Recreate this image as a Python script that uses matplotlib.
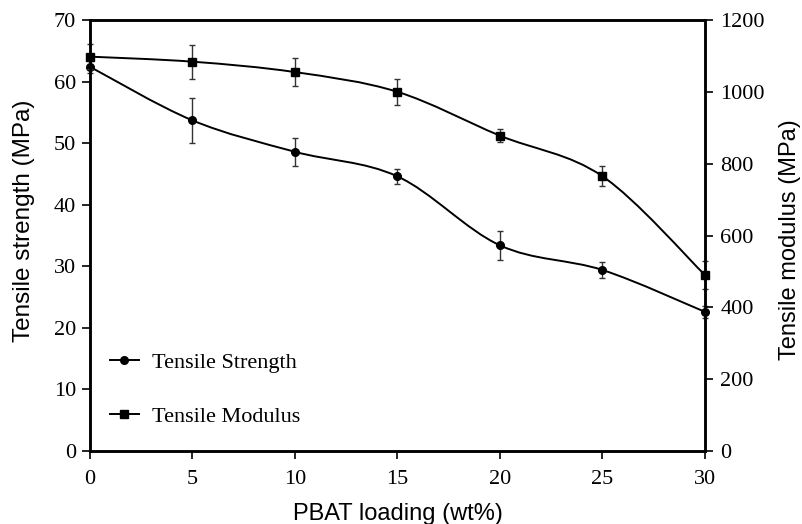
import numpy as np
import matplotlib
matplotlib.use('Agg')
import matplotlib.pyplot as plt
from matplotlib.path import Path
from matplotlib.patches import PathPatch
from matplotlib.lines import Line2D

# data
loading = [0, 5, 10, 15, 20, 25, 30]
strength = [62.4, 53.7, 48.6, 44.6, 33.4, 29.4, 22.6]
strength_err = [1.0, 3.6, 2.3, 1.2, 2.4, 1.3, 1.0]
modulus = [1098, 1084, 1055, 1000, 878, 765, 490]
modulus_err = [35, 47, 40, 36, 18, 28, 40]


def smooth_path(x, y):
    # Excel-like smoothed line: cubic bezier segments through the points
    x = np.asarray(x, float)
    y = np.asarray(y, float)
    n = len(x)
    verts = [(x[0], y[0])]
    codes = [Path.MOVETO]
    for i in range(n - 1):
        i0 = max(i - 1, 0)
        i3 = min(i + 2, n - 1)
        c1 = (x[i] + (x[i + 1] - x[i0]) / 6, y[i] + (y[i + 1] - y[i0]) / 6)
        c2 = (x[i + 1] - (x[i3] - x[i]) / 6, y[i + 1] - (y[i3] - y[i]) / 6)
        verts += [c1, c2, (x[i + 1], y[i + 1])]
        codes += [Path.CURVE4] * 3
    return Path(verts, codes)


serif = 'Liberation Serif'
sans = 'Liberation Sans'

fig = plt.figure(figsize=(8.02, 5.24), dpi=100)
ax = fig.add_axes([0.1122, 0.1393, 0.7668, 0.8225])
ax2 = ax.twinx()

# tensile strength
ax.add_patch(PathPatch(smooth_path(loading, strength), fill=False, color='black', lw=1.4))
eb1 = ax.errorbar(loading, strength, yerr=strength_err, fmt='o', color='black', ms=5.5,
                  ecolor='#333333', elinewidth=1, capsize=2.5, capthick=1)

# tensile modulus
ax2.add_patch(PathPatch(smooth_path(loading, modulus), fill=False, color='black', lw=1.4))
eb2 = ax2.errorbar(loading, modulus, yerr=modulus_err, fmt='s', color='black', ms=6,
                   ecolor='#333333', elinewidth=1, capsize=2.5, capthick=1)

for eb in (eb1, eb2):
    for art in eb.lines:
        if art is None:
            continue
        arts = art if isinstance(art, tuple) else (art,)
        for a in arts:
            a.set_clip_on(False)

ax.set_xlim(0, 30)
ax.set_ylim(0, 70)
ax2.set_ylim(0, 1200)
ax.set_xticks(range(0, 31, 5))
ax.set_yticks(range(0, 71, 10))
ax2.set_yticks(range(0, 1201, 200))

for a in (ax, ax2):
    for s in a.spines.values():
        s.set_linewidth(1.8)
    a.tick_params(direction='out', length=6, width=1.2, labelsize=16)
    for lab in a.get_xticklabels() + a.get_yticklabels():
        lab.set_fontfamily(serif)
ax.tick_params(axis='y', pad=4)
ax.tick_params(axis='x', pad=8)
ax2.tick_params(axis='y', pad=5)

ax.set_xlabel('PBAT loading (wt%)', fontfamily=sans, fontsize=17, labelpad=10)
ax.set_ylabel('Tensile strength (MPa)', fontfamily=sans, fontsize=17.5,
              va='center')
ax.yaxis.set_label_coords(-0.107, 0.535)
ax2.set_ylabel('Tensile modulus (MPa)', fontfamily=sans, fontsize=17,
               va='center')
ax2.yaxis.set_label_coords(1.138, 0.49)

handles = [Line2D([], [], color='black', marker='o', ms=5.5, lw=1.4),
           Line2D([], [], color='black', marker='s', ms=6, lw=1.4)]
ax.legend(handles, ['Tensile Strength', 'Tensile Modulus'], loc='lower left',
          bbox_to_anchor=(0.0, 0.01), frameon=False, handlelength=1.3,
          handletextpad=0.6, labelspacing=1.5, prop={'family': serif, 'size': 16})

fig.savefig('out.png', dpi=100)
